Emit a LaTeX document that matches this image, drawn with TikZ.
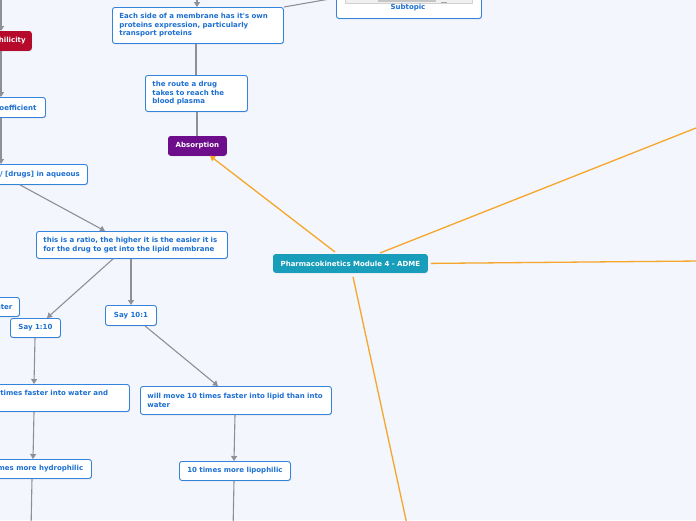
\documentclass[tikz,border=0pt]{standalone}
\usepackage{fontspec}
\newfontfamily\dvs{DejaVu Sans}
\usetikzlibrary{arrows.meta,shadows,calc}
\definecolor{bg}{HTML}{F3F6FD}
\definecolor{bblue}{HTML}{3483DC}
\definecolor{tblue}{HTML}{1C6FD1}
\definecolor{gline}{HTML}{8E9097}
\definecolor{orng}{HTML}{F6A62B}
\definecolor{tealc}{HTML}{189DBB}
\definecolor{purp}{HTML}{6D0D8C}
\definecolor{redc}{HTML}{B50A2C}
\newcommand{\boxfont}{\dvs\bfseries\fontsize{7}{8.5}\selectfont}
\tikzset{
  shad/.style={drop shadow={opacity=0.25,shadow xshift=0.6pt,shadow yshift=-0.9pt}},
  box/.style={draw=bblue,fill=white,rounded corners=2.5pt,line width=0.9pt,text=tblue,
    font=\boxfont,align=left,inner xsep=0pt,inner ysep=0pt,anchor=north west,shad},
  cbox/.style={box,align=center},
  solid box/.style={fill=#1,draw=#1,rounded corners=2.5pt,line width=0.8pt,text=white,
    font=\boxfont,align=center,inner xsep=0pt,inner ysep=0pt,anchor=north west,shad},
  garr/.style={draw=gline,line width=1.1pt,-{Triangle[width=6pt,length=5pt]}},
  gline/.style={draw=gline,line width=1.1pt},
  oline/.style={draw=orng,line width=1.3pt},
  oarr/.style={oline,-{Triangle[width=6pt,length=5pt]}},
}
\newcommand{\bx}[7]{\node[#1,minimum width=#5pt,minimum height=#6pt,text width=#5pt-14pt] (#2) at (#3,#4) {#7};}
\newcommand{\cx}[6]{\node[cbox,minimum width=#4pt,minimum height=#5pt] (#1) at (#2,#3) {#6};}
\begin{document}
\begin{tikzpicture}[x=1pt,y=-1pt]
\useasboundingbox (0,0) rectangle (696,520);
\fill[bg] (0,0) rectangle (696,520);
\clip (0,0) rectangle (696,520);

% nodes
\node[solid box=redc,minimum width=60pt,minimum height=19pt] (lip) at (-29,31) {Lipophilicity};
\cx{coef}{-51}{97}{96}{20}{Partition coefficient}
\cx{aq}{-69}{164}{156}{20}{[drugs] in lipid / [drugs] in aqueous}
\bx{box}{ratio}{36}{231}{191}{27}{this is a ratio, the higher it is the easier it is\\for the drug to get into the lipid membrane}
\cx{wat}{-19}{297}{38}{19}{Water}
\cx{s110}{10}{318}{50}{19}{Say 1:10}
\cx{s101}{105}{305}{51}{20}{Say 10:1}
\bx{box}{wf}{-59}{384}{188}{27}{will move 10 times faster into water and\\lipid}
\cx{hy}{-29}{459}{120}{19}{10 times more hydrophilic}
\bx{box}{lp}{140}{386}{191}{28}{will move 10 times faster into lipid than into\\water}
\cx{lph}{179}{461}{111}{19}{10 times more lipophilic}
\bx{box}{es}{112}{7}{171}{36}{Each side of a membrane has it's own\\proteins expression, particularly\\transport proteins}
\bx{box}{rt}{145}{75}{102}{36}{the route a drug\\takes to reach the\\blood plasma}
\node[solid box=purp,minimum width=58pt,minimum height=19pt] (ab) at (168,136) {Absorption};
\node[solid box=tealc,minimum width=154pt,minimum height=18pt] (ce) at (273,254) {Pharmacokinetics Module 4 - ADME};
\node[box,minimum width=145pt,minimum height=78pt] (sub) at (336,-60) {};
\fill[gray!12] (345,-40) rectangle (472,3);
\draw[gray!35,line width=0.5pt] (345,-40) rectangle (472,3);
\fill[gray!45] (378,-10) rectangle (436,2);
\draw[gray!70,line width=0.6pt] (441,2.5) -- (447,2.5);
\node[font=\boxfont,text=tblue,inner sep=0pt] (subt) at (408,8) {Subtopic};

% gray connectors
\coordinate (t1) at (1,-5);
\draw[garr] (t1) -- (t1 |- lip.north);
\draw[garr] (lip.south -| t1) -- (t1 |- coef.north);
\draw[garr] (coef.south -| t1) -- (t1 |- aq.north);
\draw[garr] ([xshift=89pt]aq.south west) -- ([xshift=69pt]ratio.north west);
\draw[garr] ([xshift=77pt]ratio.south west) -- ([xshift=37pt]s110.north west);
\draw[garr] ([xshift=95pt]ratio.south west) -- ([xshift=26pt]s101.north west);
\draw[garr] ([xshift=25pt]s110.south west) -- ([xshift=93pt]wf.north west);
\draw[garr] ([xshift=93pt]wf.south west) -- ([xshift=62pt]hy.north west);
\coordinate (d1) at (31,530);
\draw[gline] ([xshift=61pt]hy.south west) -- (d1);
\draw[garr] ([xshift=40pt]s101.south west) -- ([xshift=78pt]lp.north west);
\draw[garr] ([xshift=95pt]lp.south west) -- ([xshift=55pt]lph.north west);
\coordinate (d2) at (233,530);
\draw[gline] ([xshift=55pt]lph.south west) -- (d2);
\coordinate (t2) at (197,-5);
\draw[garr] (t2) -- (t2 |- es.north);
\draw[gline] (es.north east) -- ([yshift=21pt]sub.south west);
\draw[gline] ([xshift=84pt]es.south west) -- ([xshift=51pt]rt.north west);
\draw[gline] ([xshift=52pt]rt.south west) -- ([xshift=29pt]ab.north west);

% orange connectors
\draw[oarr] ([xshift=62pt,yshift=2pt]ce.north west) -- ([xshift=42pt]ab.south west);
\coordinate (o1) at (700,126.4);
\coordinate (o2) at (700,261);
\coordinate (o3) at (408.2,530);
\draw[oline] ([xshift=107pt,yshift=1pt]ce.north west) -- (o1);
\draw[oline] ([xshift=3pt]ce.east) -- (o2);
\draw[oline] ([xshift=80pt,yshift=-4pt]ce.south west) -- (o3);
\end{tikzpicture}
\end{document}
